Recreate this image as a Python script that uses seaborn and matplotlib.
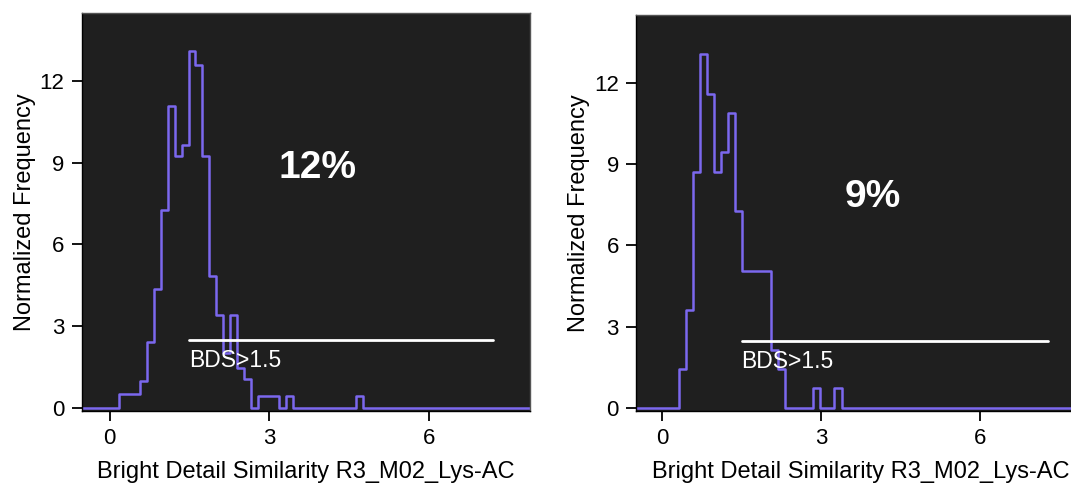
import numpy as np
import pandas as pd
import matplotlib
matplotlib.use("Agg")
import matplotlib.pyplot as plt
import seaborn as sns

sns.set_theme(style="ticks")
plt.rcParams['font.family'] = ['Liberation Sans', 'DejaVu Sans']
plt.rcParams['text.color'] = 'black'
plt.rcParams['axes.labelcolor'] = 'black'
plt.rcParams['xtick.color'] = 'black'
plt.rcParams['ytick.color'] = 'black'

# left panel: histogram (start of first bin, bin width, heights)
left_start = 0.175
left_width = 0.131
left_heights = [0.5, 0.5, 0.5, 1.0, 2.4, 4.35, 7.25, 11.1, 9.25, 9.65, 13.1, 12.6,
                9.25, 4.85, 3.4, 2.0, 3.4, 1.47, 1.04, 0, 0.45, 0.45, 0.45, 0, 0.45,
                0, 0, 0, 0, 0, 0, 0, 0, 0, 0.45]
left_pct = "12%"

# right panel
right_start = 0.315
right_width = 0.1335
right_heights = [1.45, 3.6, 8.7, 13.05, 11.6, 8.7, 9.45, 10.9, 7.26, 5.04, 5.04,
                 5.04, 5.04, 2.15, 1.45, 0, 0, 0, 0, 0.73, 0, 0, 0.73]
right_pct = "9%"

threshold = 1.5
x_label = "Bright Detail Similarity R3_M02_Lys-AC"
y_label = "Normalized Frequency"
x_ticks = [0, 3, 6]
y_ticks = [0, 3, 6, 9, 12]

line_color = "#7b68ee"
bg_color = "#1f1f1f"

fig = plt.figure(figsize=(10.71, 4.87), dpi=100)
ax1 = fig.add_axes([0.0765, 0.156, 0.418, 0.817])
ax2 = fig.add_axes([0.594, 0.156, 0.42, 0.813])


def draw(ax, start, width, heights, pct, xlim, pct_pos, line_y, line_end):
    n_left, n_right = 8, 50
    k = np.arange(-n_left, len(heights) + n_right + 1)
    edges = start + width * k
    w = np.concatenate([np.zeros(n_left), heights, np.zeros(n_right)])
    df = pd.DataFrame({"bds": (edges[:-1] + edges[1:]) / 2, "freq": w})
    sns.histplot(data=df, x="bds", weights="freq", bins=list(edges), element="step",
                 fill=False, color=line_color, linewidth=1.8, ax=ax)
    ax.set_facecolor(bg_color)
    ax.set_xlim(*xlim)
    ax.set_ylim(-0.12, 14.5)
    ax.set_xticks(x_ticks)
    ax.set_yticks(y_ticks)
    ax.tick_params(labelsize=16, length=7, width=1.3, color="black", pad=5.5)
    ax.set_xlabel(x_label, fontsize=17, labelpad=8)
    ax.set_ylabel(y_label, fontsize=17, labelpad=3)
    for side, s in ax.spines.items():
        s.set_color("black" if side in ("left", "bottom") else "#555555")
        s.set_linewidth(1)
    ax.plot([threshold, line_end], [line_y, line_y], color="white", lw=2)
    ax.text(threshold, line_y - 0.33, "BDS>" + str(threshold), color="white",
            fontsize=16.5, ha="left", va="top")
    ax.text(pct_pos[0], pct_pos[1], pct, color="white", fontsize=28,
            fontweight="bold", ha="center", va="center")


draw(ax1, left_start, left_width, left_heights, left_pct, (-0.52, 7.9), (3.92, 8.8), 2.5, 7.22)
draw(ax2, right_start, right_width, right_heights, right_pct, (-0.49, 8.0), (3.97, 7.77), 2.45, 7.28)

fig.savefig("out.png", dpi=100)
